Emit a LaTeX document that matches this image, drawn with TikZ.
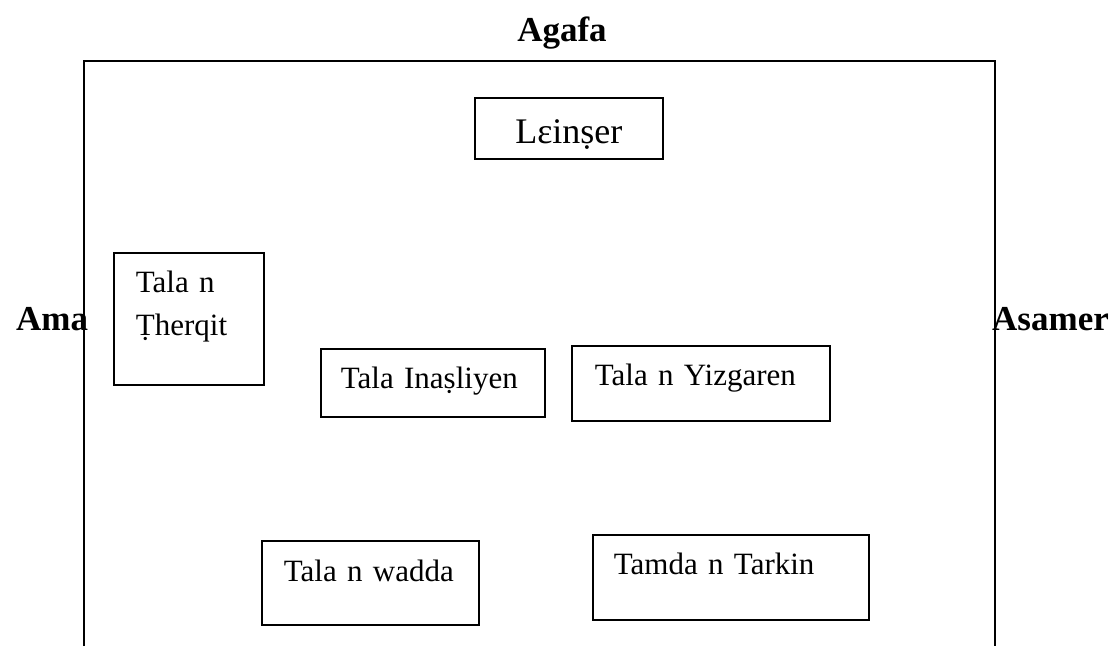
\documentclass[tikz,border=0pt]{standalone}
\usepackage{fontspec}
\setmainfont{Liberation Serif}
\usepackage{tikz}
\usetikzlibrary{positioning}

\newcommand\boxfont{\fontsize{31}{43}\selectfont}
\newcommand\topfont{\fontsize{36}{40}\selectfont}
\newcommand\sidefont{\fontsize{35}{40}\selectfont\bfseries}

\tikzset{
  tbox/.style={draw, line width=1.8pt, anchor=north west, inner ysep=0pt, align=left, font=\boxfont},
  side/.style={anchor=base west, inner sep=0pt, font=\sidefont}
}

\begin{document}
\begin{tikzpicture}[x=1pt,y=-1pt]
\useasboundingbox (0,0) rectangle (1118,646);

\coordinate (fbl) at (84,646);
\coordinate (ftl) at (84,61);
\coordinate (ftr) at (995,61);
\coordinate (fbr) at (995,646);
\draw[line width=1.8pt] (fbl) -- (ftl) -- (ftr) -- (fbr);

\node (agafa) [anchor=base, inner sep=0pt, font=\sidefont] at (562,41) {Agafa};
\node (ama) [side] at (16,330) {Ama};
\node (asamer) [side] at (992,330) {Asamer};

\node (leinser) [tbox, align=center, font=\topfont, inner xsep=0pt, text width=188pt, text height=46pt, text depth=15pt] at (474,97) {Lɛinṣer};
\node (therqit) [tbox, inner xsep=22pt, text width=106pt, text height=40pt, text depth=92pt] at (113,252) {Tala n\\Ṭherqit};
\node (inasliyen) [tbox, inner xsep=20pt, text width=184pt, text height=40pt, text depth=28pt] at (320,348) {Tala Inaṣliyen};
\node (yizgaren) [tbox, inner xsep=23pt, text width=212pt, text height=40pt, text depth=35pt] at (571,345) {Tala n Yizgaren};
\node (wadda) [tbox, inner xsep=22pt, text width=173pt, text height=41pt, text depth=43pt] at (261,540) {Tala n wadda};
\node (tarkin) [tbox, inner xsep=21pt, text width=234pt, text height=40pt, text depth=45pt] at (592,534) {Tamda n Tarkin};

\end{tikzpicture}
\end{document}
